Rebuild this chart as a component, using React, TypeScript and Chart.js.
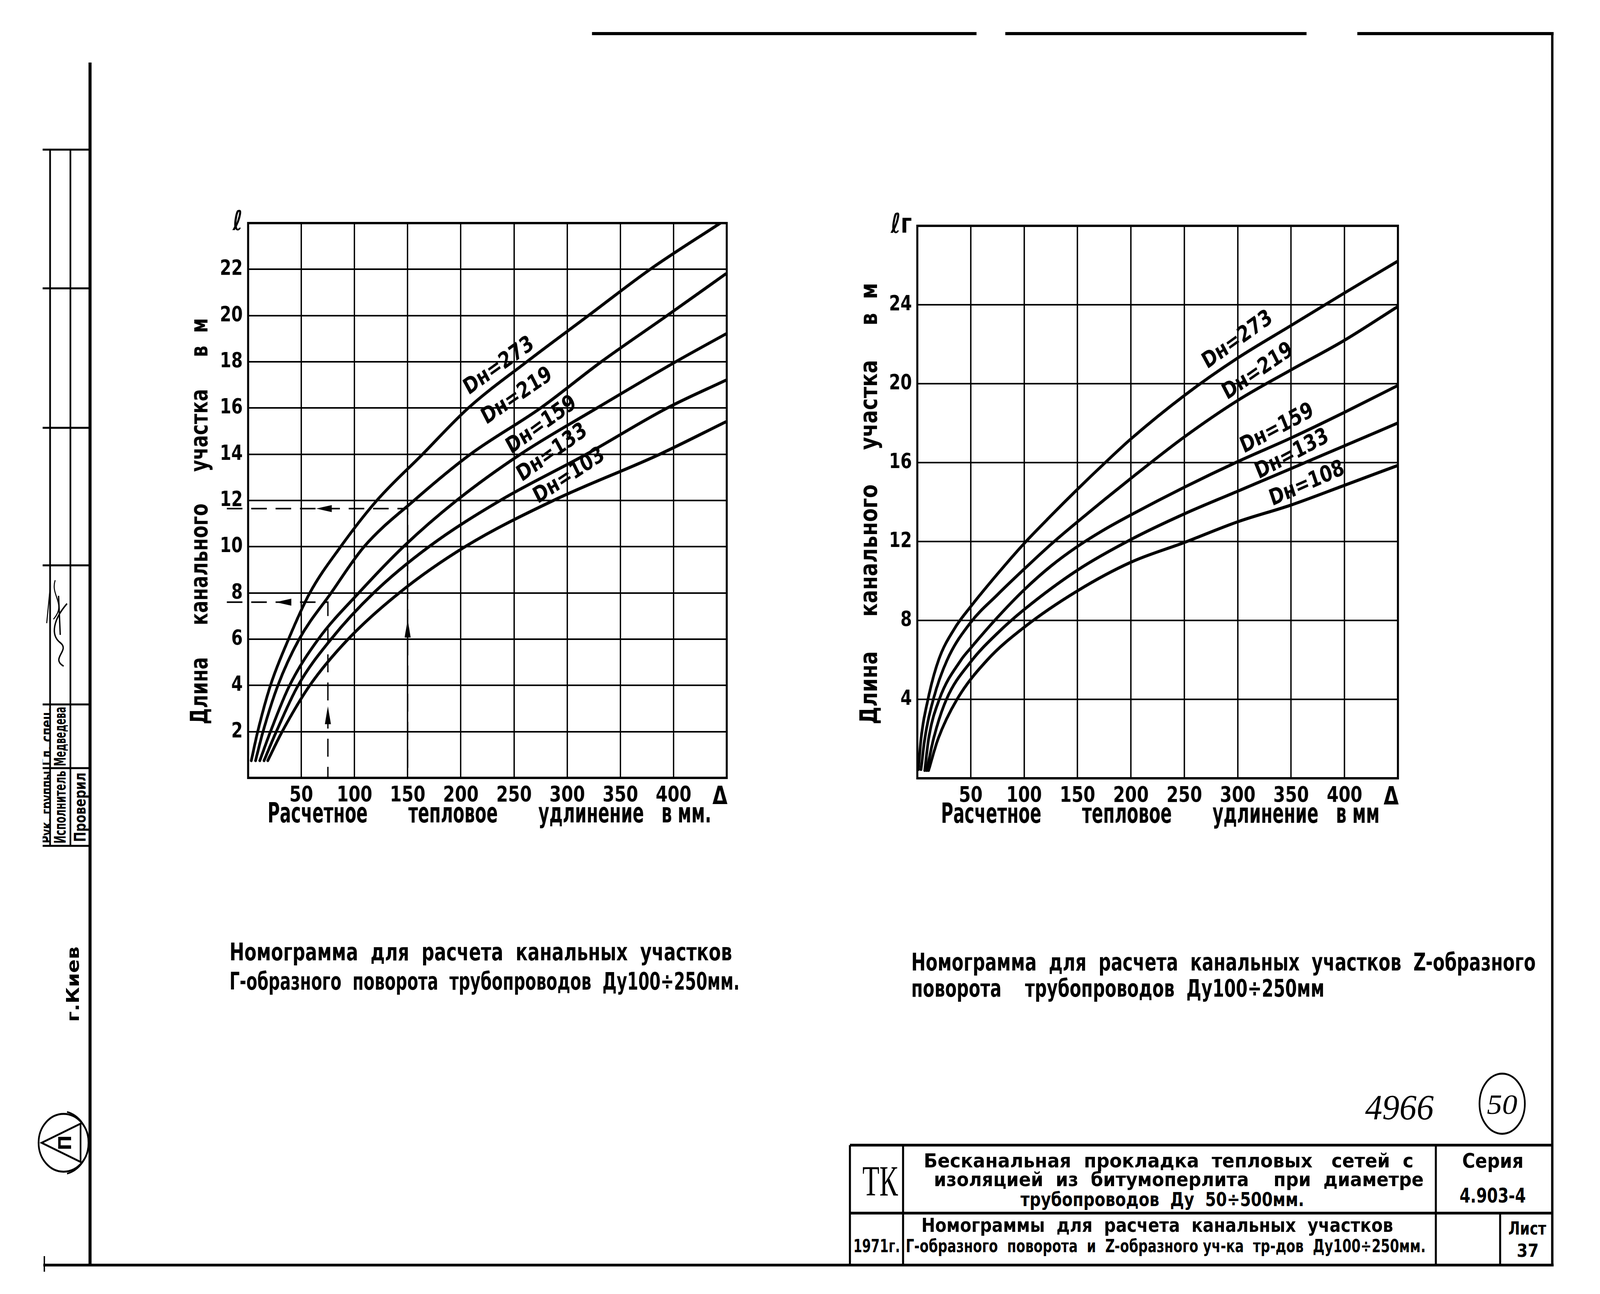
import React, { useEffect, useRef, useState } from 'react';
import { Chart, registerables } from 'chart.js';

Chart.register(...registerables);

const FONT = "'DejaVu Sans Condensed', 'Liberation Sans Narrow', 'Noto Sans', sans-serif";
const SERIF = "'Liberation Serif', 'DejaVu Serif', serif";
const PAGE_W = 4727;
const PAGE_H = 3312;

type Pt = [number, number];

// ---------- Left nomogram: Г-образный поворот ----------
const leftCurve273: Pt[] = [[3, 0.75], [9, 2], [21, 4], [38, 6], [58, 8], [87, 10], [121, 12], [164, 14], [207, 16], [262, 18], [320, 20], [378, 22], [444, 24]];
const leftCurve219: Pt[] = [[7, 0.75], [14, 2], [28, 4], [48, 6], [78, 8], [109, 10], [156, 12], [209, 14], [275, 16], [332, 18], [394, 20], [449, 21.8]];
const leftCurve159: Pt[] = [[11, 0.75], [21, 2], [39, 4], [66, 6], [104, 8], [146, 10], [196, 12], [256, 14], [328, 16], [402, 18], [449, 19.2]];
const leftCurve133: Pt[] = [[15, 0.75], [26.5, 2], [47, 4], [78, 6], [118, 8], [170, 10], [237, 12], [318, 14], [394, 16], [449, 17.2]];
const leftCurve103: Pt[] = [[18.5, 0.75], [32, 2], [58, 4], [94, 6], [142, 8], [204, 10], [287, 12], [387, 14], [449, 15.4]];
const leftCurves = [leftCurve273, leftCurve219, leftCurve159, leftCurve133, leftCurve103];

// example (dashed) reading lines on the left nomogram
const leftExampleA: Pt[] = [[-20, 11.65], [150, 11.65], [150, 0]];
const leftExampleB: Pt[] = [[-20, 7.6], [75, 7.6], [75, 0]];
const leftArrowX = [64, 26, 150, 75];
const leftArrowY = [11.65, 7.6, 6.85, 3.1];
const leftArrowAngle = [0, 0, 90, 90];

const leftLabelText = ['Dн=273', 'Dн=219', 'Dн=159', 'Dн=133', 'Dн=103'];
const leftLabelX = [236, 253, 276, 286, 302];
const leftLabelY = [17.8, 16.5, 15.25, 14.05, 13.05];
const leftLabelAngle = [-32, -31, -32, -32, -30];

const leftYTickLabels: Record<number, string> = { 0: '', 24: 'ℓ' };

// ---------- Right nomogram: Z-образный поворот ----------
const rightCurve273: Pt[] = [[1, 0.45], [3.5, 2], [10, 4], [20, 6], [35, 7.6], [50, 8.7], [75, 10.35], [100, 11.9], [125, 13.3], [150, 14.65], [175, 15.95], [200, 17.2], [250, 19.4], [300, 21.3], [350, 22.95], [400, 24.6], [449.6, 26.2]];
const rightCurve219: Pt[] = [[3.5, 0.45], [7, 2], [15, 4], [28, 6], [50, 7.9], [75, 9.3], [100, 10.6], [125, 11.85], [150, 13.0], [200, 15.2], [250, 17.3], [300, 19.15], [350, 20.7], [400, 22.2], [449.6, 23.9]];
const rightCurve159: Pt[] = [[7, 0.4], [10.6, 2], [20.6, 4], [41, 6], [50, 6.6], [75, 8.15], [100, 9.55], [125, 10.75], [150, 11.75], [175, 12.6], [200, 13.35], [250, 14.75], [300, 16.05], [350, 17.25], [400, 18.55], [449.6, 19.9]];
const rightCurve133: Pt[] = [[8.9, 0.4], [15.2, 2], [27.3, 4], [50, 5.9], [75, 7.35], [100, 8.55], [150, 10.55], [200, 12.1], [250, 13.4], [300, 14.55], [350, 15.7], [400, 16.85], [449.6, 18.0]];
const rightCurve108: Pt[] = [[10.6, 0.4], [19.5, 2], [37.2, 4], [65.6, 6], [100, 7.65], [150, 9.5], [200, 10.95], [250, 11.95], [300, 13.0], [350, 13.85], [400, 14.85], [449.6, 15.85]];
const rightCurves = [rightCurve273, rightCurve219, rightCurve159, rightCurve133, rightCurve108];

const rightLabelText = ['Dн=273', 'Dн=219', 'Dн=159', 'Dн=133', 'Dн=108'];
const rightLabelX = [300, 319, 337, 351, 365];
const rightLabelY = [22.2, 20.6, 17.7, 16.4, 14.9];
const rightLabelAngle = [-32, -31, -25, -25, -21];

const rightYTickLabels: Record<number, string> = { 0: '', 28: 'ℓг' };

// ---------- shared axis text ----------
const xTickLabels: Record<number, string> = { 0: '', 450: 'Δ  ' };
const xTitleLeft = 'Расчетное       тепловое       удлинение   в мм.';
const xTitleRight = 'Расчетное       тепловое       удлинение   в мм';
const yTitle = 'Длина     канального     участка     в  м';

const toXY = (pts: Pt[]) => pts.map(([x, y]) => ({ x, y }));

if (typeof document !== 'undefined') {
  document.documentElement.style.overflow = 'hidden';
  document.body.style.overflow = 'hidden';
}

const nomoPlugin = {
  id: 'nomo',
  afterDatasetsDraw(chart: any, _args: any, opts: any) {
    const { ctx, chartArea } = chart;
    const xs = chart.scales.x;
    const ys = chart.scales.y;
    ctx.save();
    ctx.strokeStyle = '#000';
    ctx.lineWidth = 6;
    ctx.strokeRect(chartArea.left, chartArea.top, chartArea.right - chartArea.left, chartArea.bottom - chartArea.top);
    ctx.fillStyle = '#000';
    ctx.font = `bold 58px ${FONT}`;
    ctx.textAlign = 'center';
    ctx.textBaseline = 'middle';
    const lt: string[] = opts.labelText || [];
    lt.forEach((t, i) => {
      ctx.save();
      ctx.translate(xs.getPixelForValue(opts.labelX[i]), ys.getPixelForValue(opts.labelY[i]));
      ctx.rotate((opts.labelAngle[i] * Math.PI) / 180);
      ctx.fillText(t, 0, 0);
      ctx.restore();
    });
    const ax: number[] = opts.arrowX || [];
    ax.forEach((v, i) => {
      ctx.save();
      ctx.translate(xs.getPixelForValue(v), ys.getPixelForValue(opts.arrowY[i]));
      ctx.rotate((opts.arrowAngle[i] * Math.PI) / 180);
      ctx.beginPath();
      ctx.moveTo(0, 0);
      ctx.lineTo(46, -9);
      ctx.lineTo(46, 9);
      ctx.closePath();
      ctx.fill();
      ctx.restore();
    });
    ctx.restore();
  },
  afterDraw(chart: any, _args: any, opts: any) {
    const { ctx, chartArea: ca } = chart;
    const t = opts.titles;
    if (!t) return;
    ctx.save();
    ctx.fillStyle = '#000';
    ctx.font = `bold ${t.size}px ${FONT}`;
    ctx.textAlign = 'center';
    ctx.textBaseline = 'middle';
    const fit = (text: string, cx: number, cy: number, len: number, rot: boolean) => {
      ctx.save();
      ctx.translate(cx, cy);
      if (rot) ctx.rotate(-Math.PI / 2);
      const w = ctx.measureText(text).width;
      ctx.scale(len / w, 1);
      ctx.fillText(text, 0, 0);
      ctx.restore();
    };
    fit(t.xText, ca.left + t.xCenter, ca.bottom + t.xDy, t.xLen, false);
    fit(t.yText, ca.left - t.yDx, ca.top + t.yCenter, t.yLen, true);
    ctx.restore();
  },
};

function buildConfig(p: {
  curves: Pt[][];
  dashed: Pt[][];
  yMax: number;
  yStep: number;
  yLabels: Record<number, string>;
  labels: { text: string[]; x: number[]; y: number[]; angle: number[] };
  arrows: { x: number[]; y: number[]; angle: number[] };
  titles: any;
}) {
  const datasets: any[] = [
    ...p.curves.map((c) => ({
      data: toXY(c),
      borderColor: '#000',
      borderWidth: 8,
      pointRadius: 0,
      fill: false,
      cubicInterpolationMode: 'monotone',
      borderCapStyle: 'round',
    })),
    ...p.dashed.map((c) => ({
      data: toXY(c),
      borderColor: '#000',
      borderWidth: 4,
      borderDash: [46, 26],
      pointRadius: 0,
      fill: false,
      tension: 0,
      clip: false,
    })),
  ];
  return {
    type: 'line',
    data: { datasets },
    options: {
      animation: false,
      responsive: false,
      devicePixelRatio: 1,
      layout: { padding: { top: 40, right: 60, left: 0, bottom: 0 } },
      plugins: {
        legend: { display: false },
        tooltip: { enabled: false },
        nomo: {
          labelText: p.labels.text,
          labelX: p.labels.x,
          labelY: p.labels.y,
          labelAngle: p.labels.angle,
          arrowX: p.arrows.x,
          arrowY: p.arrows.y,
          arrowAngle: p.arrows.angle,
          titles: p.titles,
        },
      },
      scales: {
        x: {
          type: 'linear',
          min: 0,
          max: 450,
          ticks: {
            stepSize: 50,
            autoSkip: false,
            maxRotation: 0,
            color: '#000',
            padding: 12,
            font: (c: any) => ({ family: FONT, size: c.tick && c.tick.value === 450 ? 64 : 56, weight: 'bold' }),
            callback: (v: number) => (v in xTickLabels ? xTickLabels[v] : String(v)),
          },
          grid: { color: '#000', lineWidth: 4, drawTicks: false },
          border: { color: '#000', width: 6 },
          afterFit: (s: any) => {
            s.height = 150;
            s.paddingLeft = 0;
            s.paddingRight = 0;
          },
        },
        y: {
          type: 'linear',
          min: 0,
          max: p.yMax,
          ticks: {
            stepSize: p.yStep,
            autoSkip: false,
            color: '#000',
            padding: 16,
            font: (c: any) => ({ family: FONT, size: c.tick && c.tick.value === p.yMax ? 70 : 54, weight: 'bold' }),
            callback: (v: number) => (v in p.yLabels ? p.yLabels[v] : String(v)),
          },
          grid: { color: '#000', lineWidth: 4, drawTicks: false },
          border: { color: '#000', width: 6 },
          afterFit: (s: any) => {
            s.width = 190;
            s.paddingTop = 0;
            s.paddingBottom = 0;
          },
        },
      },
    },
    plugins: [nomoPlugin],
  };
}

function ChartBox(props: { left: number; top: number; width: number; height: number; config: () => any }) {
  const ref = useRef<HTMLCanvasElement>(null);
  useEffect(() => {
    const chart = new Chart(ref.current as HTMLCanvasElement, props.config());
    return () => chart.destroy();
  }, []);
  return (
    <canvas
      ref={ref}
      width={props.width}
      height={props.height}
      style={{ position: 'absolute', left: props.left, top: props.top, width: props.width, height: props.height }}
    />
  );
}

function Txt(p: {
  x: number;
  y: number;
  w?: number;
  size: number;
  children: string;
  family?: string;
  italic?: boolean;
  bold?: boolean;
  rot?: boolean;
  anchor?: 'start' | 'middle' | 'end';
}) {
  return (
    <text
      x={p.x}
      y={p.y}
      fontSize={p.size}
      fontFamily={p.family || FONT}
      fontStyle={p.italic ? 'italic' : 'normal'}
      fontWeight={p.bold === false ? 'normal' : 'bold'}
      textAnchor={p.anchor || 'start'}
      textLength={p.w}
      lengthAdjust="spacingAndGlyphs"
      transform={p.rot ? `rotate(-90 ${p.x} ${p.y})` : undefined}
      fill="#000"
      style={{ whiteSpace: 'pre' }}
    >
      {p.children}
    </text>
  );
}

export default function App() {
  // The drawing sheet is laid out at 4727×3312 and fitted to the viewport the browser really gives.
  const [fit] = useState(() => ({
    sx: (typeof window !== 'undefined' ? window.innerWidth : PAGE_W) / PAGE_W,
    sy: (typeof window !== 'undefined' ? window.innerHeight : PAGE_H) / PAGE_H,
  }));
  const L = (x1: number, y1: number, x2: number, y2: number, w = 6) => (
    <line x1={x1} y1={y1} x2={x2} y2={y2} stroke="#000" strokeWidth={w} />
  );
  const stripRows = [383, 738, 1095, 1447, 1803, 1966, 2165];
  return (
    <div
      style={{
        position: 'absolute',
        left: 0,
        top: 0,
        width: PAGE_W,
        height: PAGE_H,
        background: '#fff',
        overflow: 'hidden',
        transform: `scale(${fit.sx}, ${fit.sy})`,
        transformOrigin: '0 0',
      }}
    >
      <svg width={PAGE_W} height={PAGE_H} style={{ position: 'absolute', left: 0, top: 0 }}>
        <defs>
          <clipPath id="col1">
            <rect x={126} y={300} width={22} height={2000} />
          </clipPath>
        </defs>
        {/* page frame */}
        {L(266, 160, 266, 3241, 9)}
        {L(128, 3238, 4590, 3238, 7)}
        {L(4586, 82, 4586, 3241, 7)}
        {L(1749, 86, 2885, 86, 8)}
        {L(2970, 86, 3860, 86, 8)}
        {L(4010, 86, 4590, 86, 8)}
        {L(131, 3215, 131, 3255, 4)}

        {/* left stamp strip */}
        {L(148, stripRows[0], 148, stripRows[6], 5)}
        {L(208, stripRows[0], 208, stripRows[6], 5)}
        {stripRows.map((y) => (
          <line key={y} x1={126} y1={y} x2={266} y2={y} stroke="#000" strokeWidth={5} />
        ))}
        <g clipPath="url(#col1)">
          <Txt x={154} y={2066} w={185} size={46} rot anchor="middle">Рук. группы</Txt>
          <Txt x={154} y={1885} w={150} size={46} rot anchor="middle">Гл. спец.</Txt>
        </g>
        <Txt x={194} y={2066} w={186} size={48} rot anchor="middle">Исполнитель</Txt>
        <Txt x={194} y={1885} w={152} size={48} rot anchor="middle">Медведева</Txt>
        <Txt x={253} y={2066} w={178} size={48} rot anchor="middle">Проверил</Txt>
        <path d="M 198 1545 C 158 1585, 148 1625, 178 1645 C 208 1665, 148 1685, 188 1705 M 173 1525 L 178 1625" stroke="#000" strokeWidth={4} fill="none" />
        <path d="M 163 1485 C 148 1525, 198 1545, 158 1585 M 138 1595 L 148 1505" stroke="#000" strokeWidth={3} fill="none" />
        <Txt x={233} y={2519} w={193} size={52} rot anchor="middle">г.Киев</Txt>
        {/* logo */}
        <circle cx={188} cy={2925} r={74} stroke="#000" strokeWidth={5} fill="none" />
        <path d="M 198 2846 A 81 81 0 0 1 198 3004" stroke="#000" strokeWidth={4} fill="none" />
        <polygon points="123,2925 238,2876 238,2974" stroke="#000" strokeWidth={5} fill="none" />
        <Txt x={210} y={2925} size={52} rot anchor="middle">П</Txt>

        {/* captions */}
        <Txt x={678} y={2458} w={1485} size={62}>Номограмма  для  расчета  канальных  участков</Txt>
        <Txt x={678} y={2533} w={1507} size={62}>Г-образного  поворота  трубопроводов  Ду100÷250мм.</Txt>
        <Txt x={2692} y={2484} w={1845} size={62}>Номограмма  для  расчета  канальных  участков  Z-образного</Txt>
        <Txt x={2692} y={2551} w={1221} size={62}>поворота    трубопроводов  Ду100÷250мм</Txt>

        {/* sheet number marks */}
        <Txt x={4033} y={2865} w={203} size={92} family={SERIF} italic bold={false}>4966</Txt>
        <ellipse cx={4438} cy={2825} rx={67} ry={77} stroke="#000" strokeWidth={5} fill="none" />
        <Txt x={4438} y={2851} w={90} size={72} family={SERIF} italic bold={false} anchor="middle">50</Txt>

        {/* title block */}
        {L(2511, 2931, 4586, 2931, 7)}
        {L(2511, 3105, 4586, 3105, 7)}
        {L(2511, 2931, 2511, 3238, 6)}
        {L(2668, 2931, 2668, 3238, 6)}
        {L(4242, 2931, 4242, 3238, 6)}
        {L(4432, 3105, 4432, 3238, 6)}
        <Txt x={2548} y={3060} w={105} size={110} family={SERIF} bold={false}>ТК</Txt>
        <Txt x={2729} y={2988} w={1447} size={50}>Бесканальная  прокладка  тепловых   сетей  с</Txt>
        <Txt x={2759} y={3036} w={1447} size={50}>изоляцией  из  битумоперлита    при  диаметре</Txt>
        <Txt x={3015} y={3087} w={838} size={50}>трубопроводов  Ду  50÷500мм.</Txt>
        <Txt x={4320} y={2989} w={181} size={52}>Серия</Txt>
        <Txt x={4312} y={3078} w={196} size={52}>4.903-4</Txt>
        <Txt x={2722} y={3153} w={1394} size={50}>Номограммы  для  расчета  канальных  участков</Txt>
        <Txt x={2676} y={3205} w={1536} size={46}>Г-образного  поворота  и  Z-образного уч-ка  тр-дов  Ду100÷250мм.</Txt>
        <Txt x={2521} y={3205} w={138} size={46}>1971г.</Txt>
        <Txt x={4456} y={3160} w={112} size={46}>Лист</Txt>
        <Txt x={4481} y={3217} w={65} size={46}>37</Txt>
      </svg>

      <ChartBox
        left={543}
        top={531}
        width={1664}
        height={1610}
        config={() =>
          buildConfig({
            curves: leftCurves,
            dashed: [leftExampleA, leftExampleB],
            yMax: 24,
            yStep: 2,
            yLabels: leftYTickLabels,
            labels: { text: leftLabelText, x: leftLabelX, y: leftLabelY, angle: leftLabelAngle },
            arrows: { x: leftArrowX, y: leftArrowY, angle: leftArrowAngle },
            titles: { size: 72, xText: xTitleLeft, xCenter: 713, xDy: 95, xLen: 1311, yText: yTitle, yDx: 139, yCenter: 763, yLen: 1040 },
          })
        }
      />
      <ChartBox
        left={2520}
        top={538}
        width={1670}
        height={1604}
        config={() =>
          buildConfig({
            curves: rightCurves,
            dashed: [],
            yMax: 28,
            yStep: 4,
            yLabels: rightYTickLabels,
            labels: { text: rightLabelText, x: rightLabelX, y: rightLabelY, angle: rightLabelAngle },
            arrows: { x: [], y: [], angle: [] },
            titles: { size: 72, xText: xTitleRight, xCenter: 718, xDy: 95, xLen: 1296, yText: yTitle, yDx: 138, yCenter: 711, yLen: 1130 },
          })
        }
      />
    </div>
  );
}
